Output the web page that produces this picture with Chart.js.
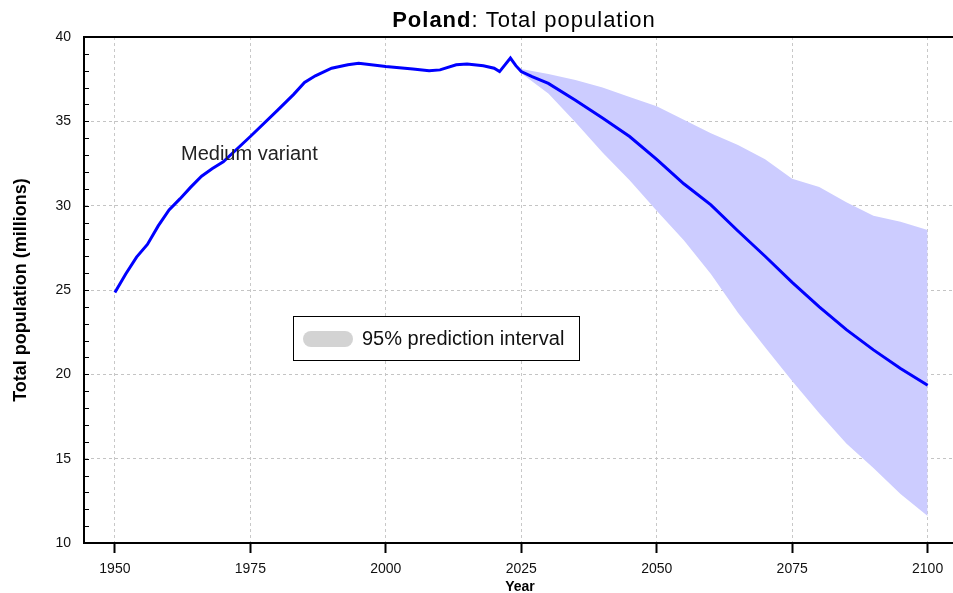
<!DOCTYPE html>
<html>
<head>
<meta charset="utf-8">
<script src="https://cdn.jsdelivr.net/npm/chart.js@4"></script>
<style>
html,body{margin:0;padding:0;background:#fff;}
#wrap{width:953px;height:593px;}
</style>
</head>
<body>
<div id="wrap"><canvas id="c" width="953" height="593"></canvas></div>
<script>
const medianYears = [1950,1952,1954,1956,1958,1960,1962,1964,1966,1968,1970,1975,1980,1983,1985,1987,1990,1993,1995,2000,2005,2008,2010,2013,2015,2018,2020,2021,2023,2024,2025,2027,2030,2035,2040,2045,2050,2055,2060,2065,2070,2075,2080,2085,2090,2095,2100];
const medianValues = [24.85,25.95,26.95,27.7,28.8,29.75,30.4,31.1,31.75,32.2,32.6,34.1,35.65,36.6,37.3,37.7,38.15,38.35,38.45,38.25,38.1,38.0,38.05,38.35,38.4,38.3,38.15,37.95,38.75,38.3,37.95,37.65,37.25,36.25,35.2,34.1,32.75,31.3,30.05,28.5,27.0,25.45,24.0,22.65,21.45,20.35,19.35];
const bandYears = [2024,2025,2030,2035,2040,2045,2050,2055,2060,2065,2070,2075,2080,2085,2090,2095,2100];
const upper95 = [38.3,38.1,37.8,37.45,37.0,36.45,35.9,35.1,34.3,33.6,32.75,31.6,31.1,30.2,29.4,29.05,28.55];
const lower95 = [38.3,37.85,36.65,34.95,33.15,31.5,29.7,27.95,25.95,23.65,21.6,19.6,17.7,15.9,14.45,12.9,11.6];
const xTicks = [1950,1975,2000,2025,2050,2075,2100];
const yTicks = [10,15,20,25,30,35,40];
const countryName = "Poland";
const chartTitle = ": Total population";
const yTitle = "Total population (millions)";
const xTitle = "Year";
const lineLabel = "Medium variant";
const bandLabel = "95% prediction interval";

const FONT = "'Liberation Sans', Arial, sans-serif";
Chart.defaults.font.family = FONT;

const toPts = (xs, ys) => xs.map((x, i) => ({x: x, y: ys[i]}));

const decor = {
  id: 'decor',
  afterDraw(chart) {
    const ctx = chart.ctx;
    const a = chart.chartArea;
    const ys = chart.scales.y;
    ctx.save();
    // top border
    ctx.strokeStyle = '#000';
    ctx.lineWidth = 2;
    ctx.beginPath();
    ctx.moveTo(a.left - 1, a.top);
    ctx.lineTo(chart.width, a.top);
    ctx.stroke();
    // minor ticks on y
    ctx.lineWidth = 1;
    for (let v = ys.min; v <= ys.max; v++) {
      const py = Math.round(ys.getPixelForValue(v)) + 0.5;
      ctx.beginPath();
      ctx.moveTo(a.left, py);
      ctx.lineTo(a.left + 5, py);
      ctx.stroke();
    }
    // title
    ctx.fillStyle = '#000';
    ctx.textBaseline = 'alphabetic';
    ctx.letterSpacing = '1px';
    ctx.font = 'bold 22px ' + FONT;
    const w1 = ctx.measureText(countryName).width;
    ctx.font = '22px ' + FONT;
    const w2 = ctx.measureText(chartTitle).width;
    const cx = (a.left + a.right) / 2 + 6;
    let tx = cx - (w1 + w2) / 2;
    ctx.font = 'bold 22px ' + FONT;
    ctx.textAlign = 'left';
    ctx.fillText(countryName, tx, 27);
    ctx.font = '22px ' + FONT;
    ctx.fillText(chartTitle, tx + w1, 27);
    ctx.letterSpacing = '0px';
    // y title
    ctx.save();
    ctx.translate(21, (a.top + a.bottom) / 2);
    ctx.rotate(-Math.PI / 2);
    ctx.textAlign = 'center';
    ctx.textBaseline = 'middle';
    ctx.font = 'bold 18px ' + FONT;
    ctx.fillText(yTitle, 0, 0);
    ctx.restore();
    // x title
    ctx.textAlign = 'center';
    ctx.textBaseline = 'middle';
    ctx.font = 'bold 14px ' + FONT;
    ctx.fillText(xTitle, (a.left + a.right) / 2 + 2, 587);
    // Medium variant label
    ctx.textAlign = 'left';
    ctx.font = '20px ' + FONT;
    ctx.fillStyle = '#222';
    ctx.fillText(lineLabel, 181, 154);
    // legend box
    ctx.fillStyle = '#fff';
    ctx.fillRect(293, 316, 286, 44);
    ctx.strokeStyle = '#000';
    ctx.lineWidth = 1;
    ctx.strokeRect(293.5, 316.5, 286, 44);
    ctx.fillStyle = '#d3d3d3';
    ctx.beginPath();
    ctx.roundRect(303, 331, 50, 16, 8);
    ctx.fill();
    ctx.fillStyle = '#111';
    ctx.font = '20px ' + FONT;
    ctx.fillText(bandLabel, 362, 339);
    ctx.restore();
  }
};

new Chart(document.getElementById('c'), {
  type: 'line',
  data: {
    datasets: [
      {
        label: lineLabel,
        data: toPts(medianYears, medianValues),
        borderColor: '#0000ff',
        borderWidth: 3,
        pointRadius: 0,
        tension: 0,
        fill: false
      },
      {
        label: 'upper',
        data: toPts(bandYears, upper95),
        borderWidth: 0,
        borderColor: 'rgba(0,0,0,0)',
        backgroundColor: '#ccccff',
        pointRadius: 0,
        tension: 0,
        fill: '+1'
      },
      {
        label: 'lower',
        data: toPts(bandYears, lower95),
        borderWidth: 0,
        borderColor: 'rgba(0,0,0,0)',
        pointRadius: 0,
        tension: 0,
        fill: false
      }
    ]
  },
  options: {
    responsive: false,
    animation: false,
    devicePixelRatio: 1,
    layout: { padding: { top: 37, right: 1, left: 0, bottom: 0 } },
    plugins: { legend: { display: false }, tooltip: { enabled: false }, title: { display: false } },
    scales: {
      x: {
        type: 'linear',
        min: 1944.3,
        max: 2104.5,
        afterFit: (s) => { s.height = 50; },
        afterBuildTicks: (s) => { s.ticks = xTicks.map(v => ({value: v})); },
        ticks: { includeBounds: false, stepSize: 25, color: '#111', font: { size: 14 }, padding: 8, maxRotation: 0, callback: (v) => String(v) },
        grid: { color: '#c8c8c8', lineWidth: 1, drawTicks: true, tickLength: 10, tickColor: '#000', tickWidth: 2, tickBorderDash: [] },
        border: { display: true, color: '#000', width: 2, dash: [3, 3] }
      },
      y: {
        min: 10,
        max: 40,
        afterFit: (s) => { s.width = 84; },
        afterBuildTicks: (s) => { s.ticks = yTicks.map(v => ({value: v})); },
        ticks: { stepSize: 5, color: '#111', font: { size: 14 }, padding: 13 },
        grid: { color: '#c4c4c4', lineWidth: 1, drawTicks: false },
        border: { display: true, color: '#000', width: 2, dash: [3, 3] }
      }
    }
  },
  plugins: [decor]
});
</script>
</body>
</html>
